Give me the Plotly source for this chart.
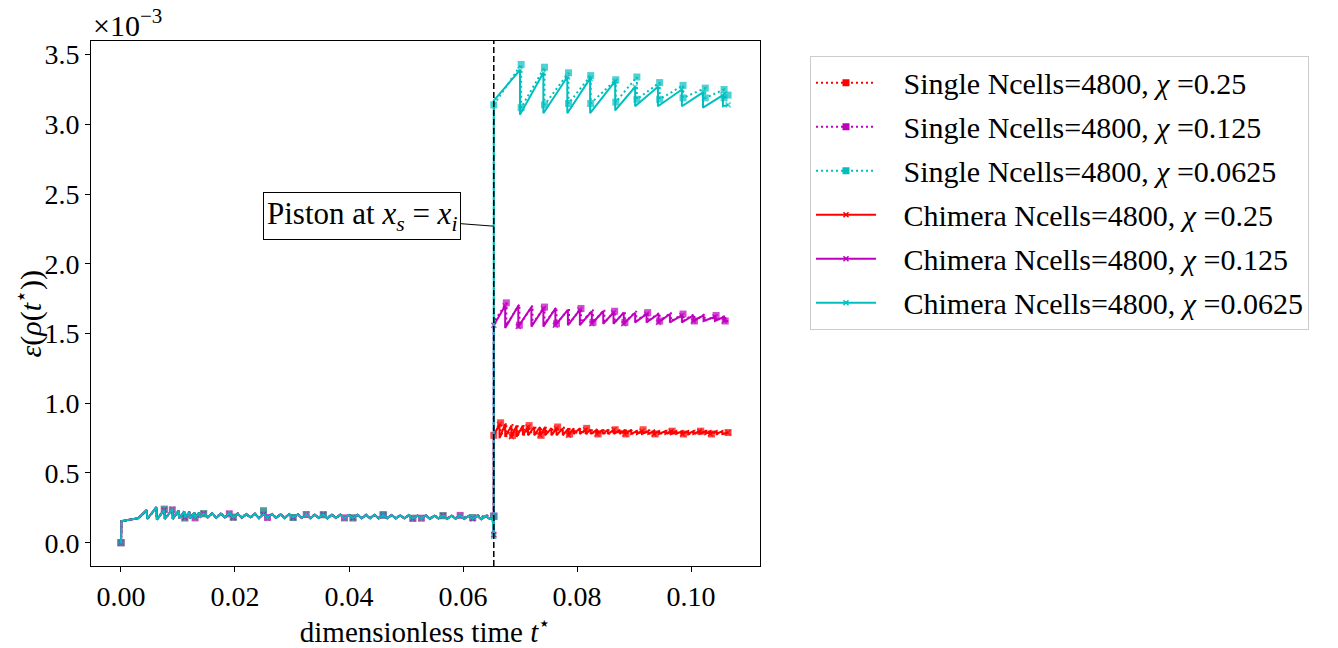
import plotly.graph_objects as go

# ---------------- data (values in units of 1e-3) ----------------
pre_t = [
    0.0, 0.0001, 0.0030, 0.0045, 0.0046, 0.0062, 0.0063, 0.0076, 0.0077, 0.0090,
    0.0091, 0.0101, 0.0102, 0.0111, 0.0112, 0.0120, 0.0121, 0.0129, 0.0130, 0.0137,
    0.0138, 0.0145, 0.0152, 0.0160, 0.0167, 0.0175, 0.0182, 0.0190, 0.0197, 0.0205,
    0.0212, 0.0220, 0.0227, 0.0235, 0.0242, 0.0250, 0.0257, 0.0265, 0.0272, 0.0280,
    0.0287, 0.0295, 0.0302, 0.0310, 0.0317, 0.0325, 0.0332, 0.0340, 0.0347, 0.0355,
    0.0362, 0.0370, 0.0377, 0.0385, 0.0392, 0.0400, 0.0407, 0.0415, 0.0422, 0.0430,
    0.0437, 0.0445, 0.0452, 0.0460, 0.0467, 0.0475, 0.0482, 0.0490, 0.0497, 0.0505,
    0.0512, 0.0520, 0.0527, 0.0535, 0.0542, 0.0550, 0.0557, 0.0565, 0.0572, 0.0580,
    0.0587, 0.0595, 0.0602, 0.0610, 0.0617, 0.0625, 0.0632, 0.0640, 0.0647, 0.0652,
]
pre_single = [
    0.0, 0.155, 0.175, 0.230, 0.168, 0.250, 0.168, 0.240, 0.172, 0.235,
    0.172, 0.228, 0.176, 0.222, 0.178, 0.222, 0.177, 0.217, 0.178, 0.213,
    0.182, 0.208, 0.184, 0.210, 0.180, 0.211, 0.180, 0.207, 0.183, 0.210,
    0.180, 0.207, 0.179, 0.206, 0.178, 0.228, 0.181, 0.204, 0.179, 0.206,
    0.178, 0.203, 0.181, 0.204, 0.179, 0.202, 0.178, 0.203, 0.179, 0.201,
    0.177, 0.202, 0.179, 0.200, 0.178, 0.201, 0.178, 0.199, 0.177, 0.200,
    0.178, 0.198, 0.177, 0.199, 0.177, 0.197, 0.176, 0.198, 0.176, 0.196,
    0.175, 0.197, 0.176, 0.195, 0.174, 0.196, 0.175, 0.194, 0.174, 0.195,
    0.176, 0.196, 0.178, 0.197, 0.180, 0.198, 0.182, 0.199, 0.185, 0.195,
]
pre_chimera = [
    0.0, 0.155, 0.175, 0.235, 0.170, 0.255, 0.165, 0.235, 0.170, 0.240,
    0.170, 0.230, 0.175, 0.225, 0.180, 0.220, 0.175, 0.215, 0.180, 0.215,
    0.180, 0.210, 0.180, 0.212, 0.178, 0.208, 0.182, 0.210, 0.180, 0.207,
    0.178, 0.205, 0.182, 0.208, 0.176, 0.204, 0.180, 0.206, 0.178, 0.203,
    0.176, 0.205, 0.180, 0.202, 0.177, 0.204, 0.176, 0.201, 0.178, 0.203,
    0.175, 0.200, 0.178, 0.202, 0.176, 0.199, 0.177, 0.201, 0.175, 0.198,
    0.176, 0.200, 0.174, 0.197, 0.176, 0.199, 0.173, 0.196, 0.175, 0.198,
    0.172, 0.195, 0.174, 0.197, 0.171, 0.194, 0.173, 0.196, 0.170, 0.193,
    0.172, 0.195, 0.170, 0.192, 0.171, 0.194, 0.169, 0.191, 0.170, 0.175,
]

piston_t = 0.0654
end_t = 0.1065

# Single Ncells=4800, chi = 0.25
red_single_dip_start_end = [0.19, 0.77, 0.79]
red_single_breaks = [0.0666, 0.0676, 0.0687, 0.0696, 0.0707, 0.0716, 0.0727, 0.0737, 0.0746, 0.0757,
                     0.0766, 0.0777, 0.0787, 0.0796, 0.0807, 0.0817, 0.0826, 0.0837, 0.0847, 0.0856,
                     0.0867, 0.0877, 0.0886, 0.0897, 0.0907, 0.0916, 0.0927, 0.0937, 0.0946, 0.0957,
                     0.0967, 0.0976, 0.0987, 0.0997, 0.1006, 0.1017, 0.1027, 0.1036, 0.1047, 0.1057]
red_single_peaks = [0.86, 0.86, 0.85, 0.85, 0.84, 0.84, 0.84, 0.83, 0.83, 0.83,
                    0.83, 0.83, 0.82, 0.82, 0.82, 0.82, 0.82, 0.82, 0.81, 0.81,
                    0.81, 0.81, 0.81, 0.81, 0.81, 0.81, 0.81, 0.81, 0.80, 0.80,
                    0.80, 0.80, 0.80, 0.80, 0.80, 0.80, 0.80, 0.80, 0.80, 0.80]
red_single_troughs = [0.76, 0.76, 0.77, 0.77, 0.77, 0.77, 0.77, 0.77, 0.78, 0.78,
                      0.78, 0.78, 0.78, 0.78, 0.78, 0.78, 0.78, 0.78, 0.78, 0.78,
                      0.78, 0.78, 0.78, 0.78, 0.78, 0.78, 0.78, 0.78, 0.78, 0.78,
                      0.78, 0.78, 0.78, 0.78, 0.78, 0.78, 0.78, 0.78, 0.78, 0.78]

# Single Ncells=4800, chi = 0.125
mag_single_dip_start_end = [0.19, 1.58, 1.59]
mag_single_breaks = [0.0676, 0.0699, 0.0722, 0.0743, 0.0764, 0.0786, 0.0807, 0.0828, 0.0848, 0.0866,
                     0.0884, 0.0904, 0.0924, 0.0945, 0.0965, 0.0986, 0.1006, 0.1024, 0.1044, 0.1060]
mag_single_peaks = [1.72, 1.71, 1.70, 1.69, 1.69, 1.68, 1.68, 1.67, 1.67, 1.66,
                    1.66, 1.66, 1.65, 1.65, 1.65, 1.64, 1.64, 1.64, 1.63, 1.63]
mag_single_troughs = [1.56, 1.56, 1.57, 1.57, 1.57, 1.57, 1.58, 1.58, 1.58, 1.58,
                      1.58, 1.59, 1.59, 1.59, 1.59, 1.59, 1.59, 1.59, 1.59, 1.59]

# Single Ncells=4800, chi = 0.0625
cyan_single_dip_start_end = [0.19, 3.14, 3.21]
cyan_single_breaks = [0.0702, 0.0743, 0.0785, 0.0824, 0.0868, 0.0905, 0.0945, 0.0986, 0.1025, 0.1058]
cyan_single_peaks = [3.43, 3.41, 3.37, 3.35, 3.32, 3.34, 3.30, 3.28, 3.26, 3.25]
cyan_single_troughs = [3.12, 3.14, 3.15, 3.15, 3.16, 3.18, 3.18, 3.19, 3.19, 3.19]

# Chimera Ncells=4800, chi = 0.25
red_chim_dip_start_end = [0.06, 0.77, 0.79]
red_chim_breaks = [0.0664, 0.0674, 0.0685, 0.0694, 0.0705, 0.0714, 0.0725, 0.0735, 0.0744, 0.0755,
                   0.0764, 0.0775, 0.0785, 0.0794, 0.0805, 0.0815, 0.0824, 0.0835, 0.0845, 0.0854,
                   0.0865, 0.0875, 0.0884, 0.0895, 0.0905, 0.0914, 0.0925, 0.0935, 0.0944, 0.0955,
                   0.0965, 0.0974, 0.0985, 0.0995, 0.1004, 0.1015, 0.1025, 0.1034, 0.1045, 0.1055]
red_chim_peaks = [0.85, 0.85, 0.84, 0.84, 0.84, 0.83, 0.83, 0.83, 0.83, 0.82,
                  0.82, 0.82, 0.82, 0.82, 0.82, 0.81, 0.81, 0.81, 0.81, 0.81,
                  0.81, 0.81, 0.81, 0.81, 0.80, 0.80, 0.80, 0.80, 0.80, 0.80,
                  0.80, 0.80, 0.80, 0.80, 0.80, 0.80, 0.80, 0.80, 0.80, 0.80]
red_chim_troughs = [0.75, 0.76, 0.76, 0.76, 0.77, 0.77, 0.77, 0.77, 0.77, 0.77,
                    0.77, 0.77, 0.77, 0.78, 0.78, 0.78, 0.78, 0.78, 0.78, 0.78,
                    0.78, 0.78, 0.78, 0.78, 0.78, 0.78, 0.78, 0.78, 0.78, 0.78,
                    0.78, 0.78, 0.78, 0.78, 0.78, 0.78, 0.78, 0.78, 0.78, 0.78]

# Chimera Ncells=4800, chi = 0.125
mag_chim_dip_start_end = [0.055, 1.56, 1.59]
mag_chim_breaks = [0.0674, 0.0697, 0.0720, 0.0741, 0.0762, 0.0784, 0.0805, 0.0826, 0.0846, 0.0864,
                   0.0882, 0.0902, 0.0922, 0.0943, 0.0963, 0.0984, 0.1004, 0.1022, 0.1042, 0.1058]
mag_chim_peaks = [1.70, 1.70, 1.69, 1.68, 1.68, 1.67, 1.67, 1.66, 1.66, 1.65,
                  1.65, 1.65, 1.64, 1.64, 1.64, 1.63, 1.63, 1.63, 1.62, 1.62]
mag_chim_troughs = [1.54, 1.55, 1.55, 1.55, 1.56, 1.56, 1.56, 1.57, 1.57, 1.57,
                    1.57, 1.58, 1.58, 1.58, 1.58, 1.58, 1.59, 1.59, 1.59, 1.59]

# Chimera Ncells=4800, chi = 0.0625
cyan_chim_dip_start_end = [0.045, 3.17, 3.14]
cyan_chim_breaks = [0.0700, 0.0741, 0.0783, 0.0823, 0.0867, 0.0902, 0.0942, 0.0984, 0.1021, 0.1056]
cyan_chim_peaks = [3.39, 3.37, 3.34, 3.33, 3.31, 3.27, 3.27, 3.25, 3.23, 3.21]
cyan_chim_troughs = [3.07, 3.08, 3.08, 3.08, 3.10, 3.13, 3.13, 3.13, 3.12, 3.13]

legend_labels = [
    "Single Ncells=4800, <i>χ</i> =0.25",
    "Single Ncells=4800, <i>χ</i> =0.125",
    "Single Ncells=4800, <i>χ</i> =0.0625",
    "Chimera Ncells=4800, <i>χ</i> =0.25",
    "Chimera Ncells=4800, <i>χ</i> =0.125",
    "Chimera Ncells=4800, <i>χ</i> =0.0625",
]
x_ticks = [0.0, 0.02, 0.04, 0.06, 0.08, 0.10]
x_ticklabels = ["0.00", "0.02", "0.04", "0.06", "0.08", "0.10"]
y_ticks = [0.0, 0.5, 1.0, 1.5, 2.0, 2.5, 3.0, 3.5]
y_ticklabels = ["0.0", "0.5", "1.0", "1.5", "2.0", "2.5", "3.0", "3.5"]


def build_path(pre_y, dse, breaks, peaks, troughs):
    xs = list(pre_t) + [piston_t, piston_t]
    ys = list(pre_y) + [dse[0], dse[1]]
    n_pre = len(xs)
    for b, p, tr in zip(breaks, peaks, troughs):
        xs += [b, b]
        ys += [p, tr]
    xs.append(end_t)
    ys.append(dse[2])
    return xs, ys, n_pre


RED, MAG, CYAN = "#ff0000", "#bf00bf", "#00bfbf"
FONT = "Liberation Serif, DejaVu Serif, serif"

series = [
    (pre_single, red_single_dip_start_end, red_single_breaks, red_single_peaks, red_single_troughs, RED, "single", 5, 7),
    (pre_single, mag_single_dip_start_end, mag_single_breaks, mag_single_peaks, mag_single_troughs, MAG, "single", 3, 9),
    (pre_single, cyan_single_dip_start_end, cyan_single_breaks, cyan_single_peaks, cyan_single_troughs, CYAN, "single", 1, 7),
    (pre_chimera, red_chim_dip_start_end, red_chim_breaks, red_chim_peaks, red_chim_troughs, RED, "chim", 5, 9),
    (pre_chimera, mag_chim_dip_start_end, mag_chim_breaks, mag_chim_peaks, mag_chim_troughs, MAG, "chim", 3, 7),
    (pre_chimera, cyan_chim_dip_start_end, cyan_chim_breaks, cyan_chim_peaks, cyan_chim_troughs, CYAN, "chim", 2, 9),
]

fig = go.Figure()

LEG_PAD = "\u2002\u2005"

# legend entries
for (pre_y, dse, br, pk, tr, col, kind, every, every_pre), label in zip(series, legend_labels):
    if kind == "single":
        line = dict(color=col, width=2, dash="2px,3px")
        marker = dict(symbol="square", size=7, color=col)
    else:
        line = dict(color=col, width=2)
        marker = dict(symbol="x-thin", size=5, color=col, line=dict(width=1.5, color=col))
    fig.add_trace(go.Scatter(x=[None], y=[None], mode="lines+markers", name=LEG_PAD + label,
                             line=line, marker=marker, showlegend=True,
                             legendgroup=label))

# data traces
for (pre_y, dse, br, pk, tr, col, kind, every, every_pre), label in zip(series, legend_labels):
    xs, ys, n_pre = build_path(pre_y, dse, br, pk, tr)
    sizes = []
    for i in range(len(xs)):
        if i < n_pre:
            on = (i % every_pre == 0) or i == n_pre - 2
        else:
            on = ((i - n_pre) % every == 0)
        if kind == "single":
            sizes.append(7 if on else 0)
        else:
            sizes.append(5 if on else 0)
    if kind == "single":
        line = dict(color=col, width=2, dash="2px,3px")
        marker = dict(symbol="square", size=sizes, color=col, line=dict(width=0))
    else:
        line = dict(color=col, width=2)
        marker = dict(symbol="x-thin", size=sizes, color=col, line=dict(width=1.5, color=col))
    fig.add_trace(go.Scatter(x=xs, y=ys, mode="lines+markers", line=line, marker=marker,
                             showlegend=False, legendgroup=label, hoverinfo="skip"))

# piston vertical line
fig.add_shape(type="line", xref="x", yref="paper", x0=piston_t, x1=piston_t, y0=0, y1=1,
              line=dict(color="black", width=1.5, dash="6px,3px"))

# annotation
fig.add_annotation(x=piston_t, y=2.27, xref="x", yref="y",
                   text="Piston at <i>x</i><sub><i>s</i></sub> = <i>x</i><sub><i>i</i></sub>",
                   showarrow=True, arrowhead=0, arrowwidth=1, arrowcolor="black",
                   ax=-132, ay=-10, standoff=0,
                   bordercolor="black", borderwidth=1, borderpad=3, bgcolor="white",
                   font=dict(family=FONT, size=31, color="black"))

# exponent label
fig.add_annotation(x=0, y=1, xref="paper", yref="paper", xanchor="left", yanchor="bottom",
                   text="×10<sup>−3</sup>", showarrow=False, yshift=-3,
                   font=dict(family=FONT, size=30, color="black"))

# y-axis title
fig.add_annotation(x=0, y=0.5, xref="paper", yref="paper", xanchor="center", yanchor="middle",
                   xshift=-62, yshift=-10, textangle=-90, showarrow=False,
                   text="<i>ε</i>(<i>ρ</i>(<i>t</i><sup>⋆</sup>))",
                   font=dict(family=FONT, size=30, color="black"))

axis_common = dict(showline=True, linecolor="black", linewidth=1, mirror=True,
                   ticks="outside", ticklen=5, tickwidth=1, tickcolor="black",
                   showgrid=False, zeroline=False,
                   tickfont=dict(family=FONT, size=28, color="black"))

fig.update_layout(
    width=1338, height=648,
    margin=dict(l=91, r=578, t=41, b=66, pad=0),
    paper_bgcolor="white", plot_bgcolor="white",
    font=dict(family=FONT, color="black"),
    xaxis=dict(range=[-0.00526, 0.1121], tickvals=x_ticks, ticktext=x_ticklabels,
               title=dict(text="dimensionless time <i>t</i><sup>⋆</sup>",
                          font=dict(family=FONT, size=29), standoff=4),
               **axis_common),
    yaxis=dict(range=[-0.167, 3.598], tickvals=y_ticks, ticktext=y_ticklabels,
               **axis_common),
    legend=dict(x=1.0747, y=0.972, xanchor="left", yanchor="top",
                bordercolor="#cccccc", borderwidth=1, bgcolor="white",
                font=dict(family=FONT, size=30, color="black"),
                traceorder="grouped", tracegroupgap=2, itemwidth=60),
    showlegend=True,
)

fig.write_html("out.html", config={"displayModeBar": False})

with open("out.html", "r", encoding="utf-8") as f:
    html = f.read()
html = html.replace("<body>", '<body style="margin:0;padding:0;">', 1)
with open("out.html", "w", encoding="utf-8") as f:
    f.write(html)
